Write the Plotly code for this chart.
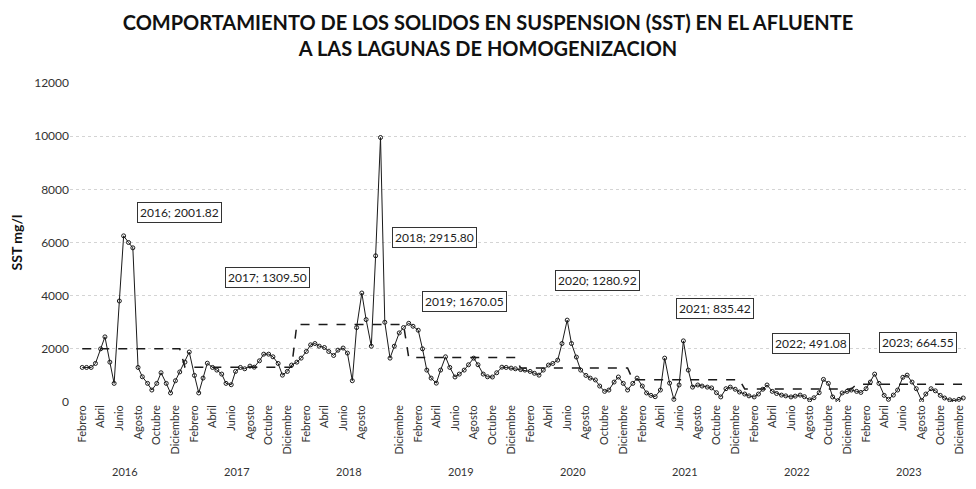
import pandas as pd
import plotly.graph_objects as go

# ── Datos: SST (mg/l) quincenal, Feb-2016 a Dic-2023 ─────────────
sst_2016 = [1300, 1300, 1300, 1450, 2000, 2450, 1500, 700, 3800, 6250, 6000,
            5800, 1300, 950, 700, 450, 700, 1100, 700, 340, 800, 1130]
sst_2017 = [1500, 1880, 1000, 340, 900, 1460, 1300, 1200, 1050, 700, 650, 1150,
            1300, 1250, 1350, 1310, 1550, 1800, 1800, 1700, 1450, 1010, 1150, 1390]
sst_2018 = [1500, 1650, 1900, 2150, 2200, 2100, 2050, 1900, 1750, 1950, 2030, 1840,
            800, 2800, 4100, 3100, 2100, 5500, 9950, 3000, 1650, 2100, 2600, 2800]
sst_2019 = [2960, 2850, 2700, 2000, 1200, 900, 710, 1200, 1700, 1300, 940, 1050,
            1200, 1400, 1650, 1400, 1050, 950, 940, 1100, 1310, 1300, 1275, 1250]
sst_2020 = [1220, 1200, 1150, 1080, 1010, 1200, 1390, 1450, 1575, 2200, 3080, 2200,
            1690, 1200, 1000, 900, 830, 600, 400, 450, 750, 940, 700, 450]
sst_2021 = [700, 900, 600, 340, 250, 200, 450, 1650, 710, 100, 640, 2300,
            1200, 560, 640, 600, 560, 530, 350, 190, 500, 560, 480, 375]
sst_2022 = [300, 230, 190, 300, 480, 640, 400, 320, 260, 230, 190, 220,
            260, 200, 80, 160, 350, 850, 700, 190, 50, 340, 400, 450]
sst_2023 = [400, 360, 500, 750, 1050, 700, 250, 100, 260, 450, 930, 1010,
            750, 500, 60, 300, 500, 420, 250, 150, 80, 50, 100, 150]

years = [2016, 2017, 2018, 2019, 2020, 2021, 2022, 2023]
annual_avg = [2001.82, 1309.50, 2915.80, 1670.05, 1280.92, 835.42, 491.08, 664.55]

# meses rotulados en el eje (en 2018 falta "Octubre")
month_labels = {
    2: "Febrero", 4: "Abril", 6: "Junio", 8: "Agosto", 10: "Octubre", 12: "Diciembre",
}
skip_ticks = [(2018, 10)]

# ── Serie completa ─────────────────────────────────────────────
series = [sst_2016, sst_2017, sst_2018, sst_2019, sst_2020, sst_2021, sst_2022, sst_2023]
values = [v for s in series for v in s]
dates = pd.date_range("2016-02-01", "2023-12-15", freq="SMS")
df = pd.DataFrame({"fecha": dates, "sst": values})
df["anio"] = df["fecha"].dt.year
df["promedio"] = df["anio"].map(dict(zip(years, annual_avg)))

_FONT = "Lato, 'Open Sans', sans-serif"

fig = go.Figure()

fig.add_trace(go.Scatter(
    x=df["fecha"], y=df["sst"], mode="lines+markers",
    line=dict(color="#1a1a1a", width=1),
    marker=dict(symbol="circle-open", size=4, color="#1a1a1a", line=dict(width=1)),
    showlegend=False,
))
fig.add_trace(go.Scatter(
    x=df["fecha"], y=df["promedio"], mode="lines",
    line=dict(color="#1a1a1a", width=1.5, dash="dash"),
    showlegend=False,
))

# ── Ticks del eje X ────────────────────────────────────────────
tickvals, ticktext = [], []
for y in years:
    for m, name in month_labels.items():
        if (y, m) in skip_ticks:
            continue
        tickvals.append(pd.Timestamp(year=y, month=m, day=1))
        ticktext.append(name)

# ── Etiquetas de promedio anual (cajas) ────────────────────────
callout_pos = [
    ("2016-12-15", 7130), ("2017-09-28", 4690), ("2019-03-25", 6190),
    ("2019-07-02", 3790), ("2020-09-07", 4580), ("2021-09-26", 3530),
    ("2022-08-04", 2210), ("2023-07-20", 2250),
]
for y, avg, (px, py) in zip(years, annual_avg, callout_pos):
    fig.add_annotation(
        x=px, y=py, xref="x", yref="y", showarrow=False,
        text=f"{y}; {avg:.2f}",
        font=dict(family=_FONT, size=12, color="#222"),
        bordercolor="#333", borderwidth=1, borderpad=2, bgcolor="white",
    )

# etiquetas de año bajo los meses
for y in years:
    fig.add_annotation(
        x=f"{y}-06-20", y=-0.219, xref="x", yref="paper", showarrow=False,
        text=str(y), font=dict(family=_FONT, size=11, color="#333"),
        yanchor="middle",
    )

# la página añade 8 px de margen: la figura ocupa 960x473
fig.update_layout(
    width=960, height=473,
    paper_bgcolor="white", plot_bgcolor="white",
    margin=dict(l=62, r=2, t=75, b=79),
    font=dict(family=_FONT, color="#222"),
    title=dict(
        text="<b>COMPORTAMIENTO DE LOS SOLIDOS EN SUSPENSION (SST) EN EL AFLUENTE"
             "<br>A LAS LAGUNAS DE HOMOGENIZACION</b>",
        x=0.5, xanchor="center", y=0.953, yanchor="top",
        font=dict(family=_FONT, size=20, color="#111"),
    ),
    xaxis=dict(
        type="date", range=["2015-12-23", "2023-12-24"],
        tickvals=tickvals, ticktext=ticktext, tickangle=-90,
        tickfont=dict(family=_FONT, size=11, color="#333"),
        showgrid=False, zeroline=False, showline=False, ticks="",
    ),
    yaxis=dict(
        range=[0, 12000], dtick=2000, tickformat="d",
        tickfont=dict(family=_FONT, size=12, color="#333"),
        showgrid=True, gridcolor="#d4d4d4", griddash="dot", gridwidth=1,
        zeroline=False, showline=False, ticks="",
        title=dict(text="<b>SST mg/l</b>", standoff=8,
                   font=dict(family=_FONT, size=14, color="#111")),
    ),
)

fig.write_html("out.html")
